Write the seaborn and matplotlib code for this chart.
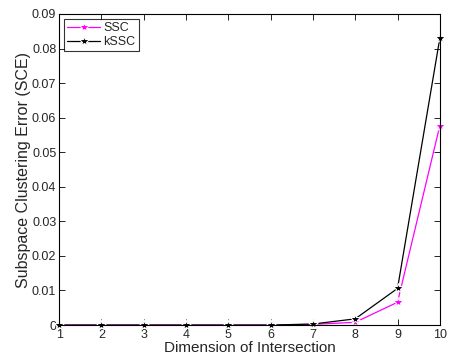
import numpy as np
import pandas as pd
import matplotlib
matplotlib.use("Agg")
import matplotlib.pyplot as plt
import seaborn as sns

dims = [1, 2, 3, 4, 5, 6, 7, 8, 9, 10]
ssc = [0, 0, 0, 0, 0, 0, 0.0002, 0.0008, 0.0066, 0.0577]
kssc = [0, 0, 0, 0, 0, 0, 0.0003, 0.0018, 0.0106, 0.0830]

df = pd.DataFrame({
    "dim": dims * 2,
    "sce": ssc + kssc,
    "method": ["SSC"] * len(dims) + ["kSSC"] * len(dims),
})

sns.set_theme(style="white")
plt.rcParams["font.family"] = ["Liberation Sans", "DejaVu Sans"]
plt.rcParams["xtick.direction"] = "in"
plt.rcParams["ytick.direction"] = "in"

fig = plt.figure(figsize=(4.62, 3.58), dpi=100)
ax = fig.add_axes([0.128, 0.092, 0.824, 0.869])

sns.lineplot(data=df, x="dim", y="sce", hue="method", style="method",
             palette={"SSC": "#ff00ff", "kSSC": "black"},
             markers={"SSC": "*", "kSSC": "*"}, dashes=False,
             markersize=7, markeredgewidth=0.8, linewidth=0.9, ax=ax)
for ln in ax.lines:
    ln.set_clip_on(False)

ax.set_xlim(1, 10)
ax.set_ylim(0, 0.09)
ax.set_xticks(dims)
ax.set_yticks(np.arange(0, 0.0901, 0.01))
ax.set_yticklabels(["0", "0.01", "0.02", "0.03", "0.04", "0.05", "0.06", "0.07", "0.08", "0.09"])
ax.tick_params(axis="both", labelsize=9, length=4, width=0.6,
               top=True, right=True, bottom=True, left=True, color="black")
ax.tick_params(axis="x", pad=2.5)
ax.tick_params(axis="y", pad=2)
for s in ax.spines.values():
    s.set_color("black")
    s.set_linewidth(0.8)

ax.set_xlabel("Dimension of Intersection", fontsize=11, labelpad=0)
ax.set_ylabel("Subspace Clustering Error (SCE)", fontsize=11.5, labelpad=1)

leg = ax.legend(loc="upper left", fontsize=9, frameon=True, fancybox=False,
                edgecolor="black", handlelength=2.6, borderpad=0.25,
                labelspacing=0.15, handletextpad=0.3, borderaxespad=0.4)
leg.get_frame().set_linewidth(0.8)

fig.savefig("out.png", dpi=100)
